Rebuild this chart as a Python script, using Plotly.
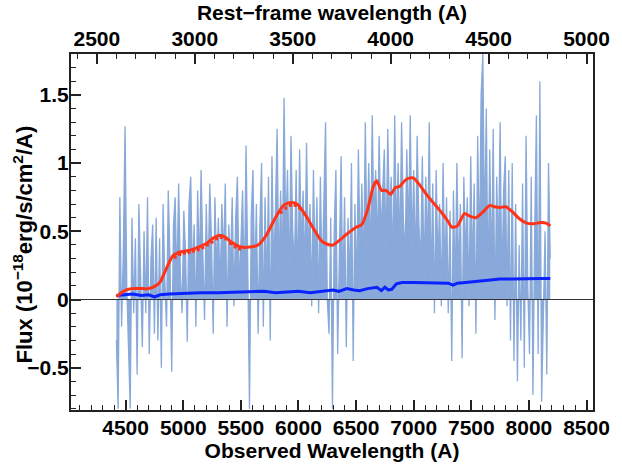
import plotly.graph_objects as go

# ---------------- data ----------------
z1 = 1.70  # 1 + z, observed / rest-frame

spec_start = 4420
spec_step = 15
spec_flux = [
    -0.3, -0.8, 0.75, -0.2, 0.35, 1.27, 0.1, -0.45, -0.8, 0.6, -0.1, 0.45,
    -0.55, 0.7, 0.05, -0.35, 0.5, -0.1, 0.75, -0.4, 0.3, 0.55, -0.25, 0.6,
    -0.3, 0.45, -0.5, 0.7, 0.15, -0.2, 0.8, 0.3, -0.53, 0.55, 0.75, 0.1,
    0.85, 0.2, -0.1, 0.65, 0.35, -0.31, 0.7, 0.9, 0.15, 0.55, -0.2, 0.8,
    0.2, 0.95, 0.35, -0.15, 0.7, 0.1, 0.85, 0.45, -0.25, 0.75, 0.2, 0.6,
    0.05, 0.7, 0.3, 0.85, -0.2, 0.55, 0.2, 0.75, -0.05, 0.6, 0.9, 0.1,
    0.4, 0.8, 0.05, 1.13, 0.25, -0.8, 0.6, 0.95, 0.1, 0.7, -0.25, 0.55,
    1.0, -0.2, 0.75, 0.05, 0.9, -0.3, 1.05, 0.2, 0.65, 1.25, 0.15, 0.8,
    0.2, 1.48, 0.45, 0.95, 0.1, 1.2, 0.5, 0.25, 0.95, 0.05, 1.1, 0.35,
    0.8, 0.15, 1.15, 0.3, 0.7, -0.05, 0.95, 0.2, 0.75, -0.1, 0.9, 0.15,
    0.7, 1.3, 0.0, -0.25, 0.6, -0.8, 0.5, 0.95, -0.4, 0.3, 1.05, 0.0,
    0.75, -0.35, 0.6, 0.1, 1.0, -0.45, 0.7, 0.05, 1.1, 0.3, 0.85, 0.15,
    1.3, 0.35, 1.0, 0.2, 1.35, 0.55, 0.95, 0.3, 1.2, 0.45, 0.85, 1.1,
    0.3, 1.25, 0.55, 0.9, 0.2, 1.35, 0.45, 1.0, 0.35, 1.3, 0.6, 0.3,
    1.1, 0.45, 1.35, 0.35, 0.95, 0.2, 1.2, 0.55, 0.25, 1.05, 0.15, 0.9,
    0.3, 1.3, 0.05, 0.85, -0.1, 0.95, 0.25, 0.7, -0.05, 1.0, 0.15, 0.75,
    -0.1, 0.65, -0.45, 0.8, 0.05, 1.0, 0.15, 0.7, -0.43, 0.9, 0.3, 0.75,
    -0.05, 1.05, 0.2, 0.85, -0.25, 1.2, 0.3, 1.5, 1.8, 0.45, 1.4, 0.05,
    1.1, 0.15, 1.25, -0.15, 0.9, 0.3, 1.3, 0.05, 0.8, 1.05, -0.05, 0.95,
    -0.3, 1.0, -0.45, 0.7, -0.6, 0.4, -0.3, 0.85, -0.5, 1.2, 0.1, -0.4,
    0.9, -0.7, 0.5, 1.35, -0.4, 1.6, -0.75, -0.2, 0.5, -0.55, 1.0, 0.3,
]
spec_wave = [spec_start + spec_step * i for i in range(len(spec_flux))]

model_wave = [4420, 4480, 4550, 4650, 4700, 4760, 4800, 4850, 4910, 4980, 5050, 5120,
              5200, 5260, 5310, 5360, 5420, 5500, 5580, 5650, 5720, 5800, 5870,
              5920, 5960, 6000, 6060, 6130, 6200, 6250, 6300, 6350, 6420, 6500,
              6550, 6600, 6650, 6680, 6720, 6760, 6800, 6840, 6880, 6920, 6960,
              7000, 7060, 7120, 7180, 7240, 7300, 7330, 7380, 7440, 7490, 7540,
              7600, 7660, 7700, 7750, 7800, 7860, 7920, 7980, 8040, 8100, 8150,
              8185]
model_flux = [0.02, 0.06, 0.08, 0.08, 0.08, 0.10, 0.13, 0.22, 0.32, 0.35, 0.36, 0.38,
              0.41, 0.45, 0.47, 0.46, 0.42, 0.385, 0.385, 0.40, 0.47, 0.60, 0.69,
              0.71, 0.71, 0.69, 0.62, 0.52, 0.43, 0.405, 0.40, 0.43, 0.48, 0.53,
              0.55, 0.66, 0.83, 0.87, 0.80, 0.80, 0.77, 0.82, 0.83, 0.87, 0.89,
              0.89, 0.83, 0.76, 0.70, 0.64, 0.57, 0.53, 0.54, 0.63, 0.61, 0.60,
              0.64, 0.69, 0.68, 0.675, 0.68, 0.64, 0.59, 0.56, 0.555, 0.565, 0.56,
              0.54]

# binned model points (small red squares just under the model curve)
bin_wave = [4930, 4970, 5010, 5050, 5090, 5130, 5170, 5210, 5250, 5290, 5330,
            5370, 5410, 5450, 5490, 5850, 5890, 5930, 5970, 6010, 6050]
bin_flux = [0.31, 0.33, 0.34, 0.345, 0.355, 0.365, 0.38, 0.40, 0.42, 0.445, 0.455,
            0.445, 0.41, 0.385, 0.37, 0.64, 0.67, 0.69, 0.69, 0.67, 0.63]

err_wave = [4420, 4480, 4560, 4640, 4700, 4750, 4800, 4880, 5000, 5150, 5300, 5450,
            5600, 5700, 5800, 5900, 6000, 6100, 6200, 6300, 6350, 6420, 6480, 6530,
            6600, 6680, 6720, 6750, 6780, 6810, 6850, 6900, 7000, 7100, 7200, 7300,
            7340, 7380, 7450, 7550, 7650, 7750, 7850, 8000, 8100, 8185]
err_flux = [0.03, 0.035, 0.04, 0.03, 0.035, 0.02, 0.035, 0.04, 0.045, 0.05, 0.05, 0.055,
            0.055, 0.06, 0.05, 0.055, 0.06, 0.05, 0.06, 0.07, 0.06, 0.08, 0.07, 0.065,
            0.08, 0.09, 0.065, 0.09, 0.07, 0.075, 0.115, 0.125, 0.125, 0.125, 0.125, 0.12,
            0.105, 0.12, 0.125, 0.135, 0.145, 0.15, 0.15, 0.155, 0.155, 0.155]

obs_range = [4026, 8556]
y_range = [-0.81, 1.80]
y_title = "Flux (10<sup>\u221218</sup>erg/s/cm<sup>2</sup>/A)"

# ---------------- figure ----------------
fill_col = "#88A9D9"
font_fam = "Liberation Sans, Arial, sans-serif"
axis_col = "#222222"

fig = go.Figure()
fig.add_trace(go.Scatter(
    x=spec_wave, y=spec_flux, mode="lines", fill="tozeroy",
    fillcolor=fill_col, line=dict(color=fill_col, width=1.3),
    showlegend=False, hoverinfo="skip"))
fig.add_trace(go.Scatter(
    x=err_wave, y=err_flux, mode="lines",
    line=dict(color="#0A22FF", width=3), showlegend=False))
fig.add_trace(go.Scatter(
    x=bin_wave, y=bin_flux, mode="markers",
    marker=dict(color="#FF3318", size=3, symbol="square"), showlegend=False))
fig.add_trace(go.Scatter(
    x=model_wave, y=model_flux, mode="lines",
    line=dict(color="#FF3318", width=3, shape="spline", smoothing=0.6),
    showlegend=False))
# invisible trace that carries the rest-frame (top) axis
fig.add_trace(go.Scatter(
    x=[w / z1 for w in model_wave], y=model_flux, xaxis="x2", mode="lines",
    line=dict(width=0), opacity=0, showlegend=False, hoverinfo="skip"))

fig.add_shape(type="line", xref="paper", yref="y", x0=0, x1=1, y0=0, y1=0,
              line=dict(color="#333333", width=1.2), layer="above")

tick_font = dict(family=font_fam, size=21, color="black", weight="bold")
title_font = dict(family=font_fam, size=21, color="black", weight="bold")

# y-axis title as a rotated annotation (sits a little below the axis centre)
fig.add_annotation(
    text=y_title, textangle=-90, xref="paper", yref="paper",
    x=-0.092, y=0.465, xanchor="center", yanchor="middle", showarrow=False,
    font=dict(family=font_fam, size=22, color="black", weight="bold"))

fig.update_layout(
    width=622, height=466,
    margin=dict(l=71, r=19, t=51, b=54),
    plot_bgcolor="white", paper_bgcolor="white",
    font=dict(family=font_fam, color="black"),
    xaxis=dict(
        range=obs_range, showgrid=False, zeroline=False,
        showline=True, linecolor=axis_col, linewidth=2, mirror=False,
        ticks="inside", tickcolor=axis_col, ticklen=10, tickwidth=1.5,
        tick0=4500, dtick=500,
        minor=dict(ticks="inside", dtick=100, ticklen=5, tickcolor=axis_col, tickwidth=1),
        tickfont=tick_font, ticklabelstandoff=-2,
        title=dict(text="Observed Wavelength (A)", font=title_font, standoff=0),
    ),
    xaxis2=dict(
        overlaying="x", side="top", anchor="y",
        range=[obs_range[0] / z1, obs_range[1] / z1],
        showgrid=False, zeroline=False,
        showline=True, linecolor=axis_col, linewidth=2,
        ticks="inside", tickcolor=axis_col, ticklen=10, tickwidth=1.5,
        tick0=2500, dtick=500,
        minor=dict(ticks="inside", dtick=100, ticklen=5, tickcolor=axis_col, tickwidth=1),
        tickfont=tick_font, ticklabelstandoff=-2,
        title=dict(text="Rest\u2212frame wavelength (A)", font=title_font, standoff=0),
    ),
    yaxis=dict(
        range=y_range, showgrid=False, zeroline=False,
        showline=True, linecolor=axis_col, linewidth=2, mirror=True,
        ticks="inside", tickcolor=axis_col, ticklen=10, tickwidth=1.5,
        tick0=0, dtick=0.5,
        minor=dict(ticks="inside", dtick=0.1, ticklen=5, tickcolor=axis_col, tickwidth=1),
        tickfont=tick_font, ticklabelstandoff=-4,
    ),
)

fig.write_html("out.html")
